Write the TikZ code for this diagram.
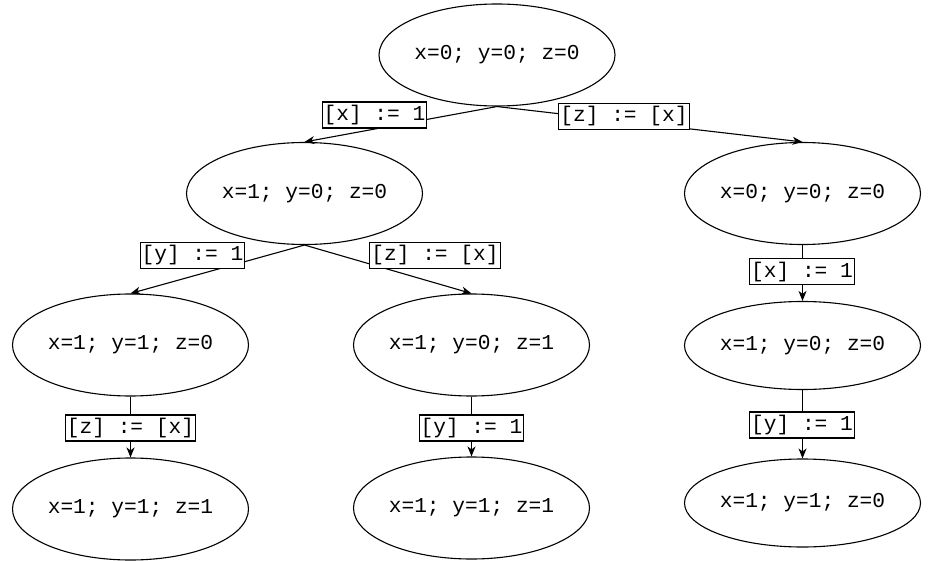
\documentclass[tikz,border=0pt]{standalone}
\usepackage{fontspec}
\setmonofont{Liberation Mono}
\usetikzlibrary{shapes.geometric,arrows.meta}
\newcommand{\stfont}{\fontsize{21.2}{25}\selectfont\ttfamily}
\begin{document}
\begin{tikzpicture}[x=1pt,y=-1pt,
  state/.style={ellipse,draw,line width=1.1pt,minimum width=236pt,minimum height=102pt,inner sep=0pt,font=\stfont},
  flat/.style={state,minimum height=88pt},
  act/.style={draw,fill=white,line width=1.1pt,inner xsep=1.5pt,inner ysep=0pt,text height=15pt,text depth=4pt,minimum height=26pt,font=\stfont},
  edge/.style={line width=1.1pt,-{Stealth[length=10pt,width=8pt,inset=3pt]}}]
\useasboundingbox (0,0) rectangle (928,561);

% states
\node[state] (s0) at (497,55)      {x=0; y=0; z=0};
\node[state] (s1) at (304.5,193.5) {x=1; y=0; z=0};
\node[state] (s2) at (802.5,193.5) {x=0; y=0; z=0};
\node[state] (s3) at (130.5,345)   {x=1; y=1; z=0};
\node[state] (s4) at (471.5,345)   {x=1; y=0; z=1};
\node[flat]  (s5) at (802.5,345.5) {x=1; y=0; z=0};
\node[state] (s6) at (130.5,509)   {x=1; y=1; z=1};
\node[state] (s7) at (471.5,508)   {x=1; y=1; z=1};
\node[flat]  (s8) at (802.5,503)   {x=1; y=1; z=0};

% transitions
\draw[edge] (s0.south) -- (s1.north);
\draw[edge] (s0.south) -- (s2.north);
\draw[edge] (s1.south) -- (s3.north);
\draw[edge] (s1.south) -- (s4.north);
\draw[edge] (s2.south) -- (s5.north);
\draw[edge] (s5.south) -- (s8.north);
\draw[edge] (s3.south) -- (s6.north);
\draw[edge] (s4.south) -- (s7.north);

% transition labels
\node[act] (a01) at (374.5,115)   {[x] := 1};
\node[act] (a02) at (624,116.5)   {[z] := [x]};
\node[act] (a13) at (192.5,255.5) {[y] := 1};
\node[act] (a14) at (435,255.5)   {[z] := [x]};
\node[act] (a25) at (802,271.5)   {[x] := 1};
\node[act] (a58) at (802,425)     {[y] := 1};
\node[act] (a36) at (130.5,428)   {[z] := [x]};
\node[act] (a47) at (471.5,428)   {[y] := 1};
\end{tikzpicture}
\end{document}
